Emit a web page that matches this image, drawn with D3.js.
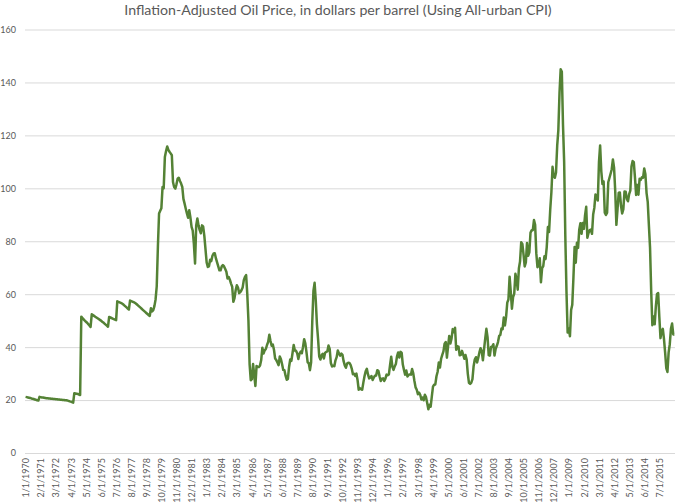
<!doctype html>
<html lang="en">
<head>
  <meta charset="utf-8">
  <title>Inflation-Adjusted Oil Price</title>
  <style>
    body { margin: 0; background: #fff; }
    svg { display: block; font-family: Lato, "Open Sans", sans-serif; }
  </style>
</head>
<body>
  <script src="https://cdn.jsdelivr.net/npm/d3@7/dist/d3.min.js"></script>
  <svg id="chart" width="675" height="503"></svg>
  <script>
    // monthly prices, one row per year, starting 1/1/1970
    var prices1970s = [
      21.2, 21.1, 21.0, 20.9, 20.8, 20.6, 20.5, 20.4, 20.2, 20.1, 19.9, 19.8,
      21.2, 21.1, 21.0, 21.0, 20.9, 20.8, 20.7, 20.7, 20.6, 20.6, 20.5, 20.5,
      20.4, 20.4, 20.3, 20.3, 20.2, 20.2, 20.1, 20.1, 20.0, 20.0, 19.9, 19.9,
      19.8, 19.7, 19.5, 19.4, 19.2, 19.0, 22.6, 22.5, 22.4, 22.3, 22.1, 21.9,
      51.5, 51.0, 50.5, 50.0, 49.6, 49.2, 48.7, 48.2, 47.6, 52.4, 52.1, 51.8,
      51.5, 51.2, 50.9, 50.6, 50.3, 50.0, 49.6, 49.3, 48.9, 48.5, 48.1, 47.7,
      51.4, 51.2, 51.0, 50.8, 50.6, 50.4, 50.2, 57.3, 57.1, 56.9, 56.7, 56.5,
      56.2, 55.8, 55.4, 55.0, 54.6, 54.2, 57.6, 57.4, 57.2, 57.0, 56.8, 56.5,
      56.1, 55.7, 55.3, 54.9, 54.5, 54.1, 53.7, 53.3, 52.9, 52.5, 52.1, 51.8,
      54.7, 53.5, 54.0, 55.5, 58.0, 63.0, 78.0, 90.5, 91.5, 92.5, 100.5, 100.0
    ];
    var prices1980s = [
      111.8, 114.0, 115.8, 114.5, 113.8, 113.2, 112.5, 102.4, 100.5, 99.9, 101.5, 103.6,
      104.0, 102.8, 101.8, 100.5, 96.0, 94.2, 92.3, 90.5, 88.9, 91.7, 89.0, 85.4,
      84.0, 79.0, 71.6, 86.0, 88.6, 86.0, 84.2, 83.0, 86.0, 85.5, 82.0, 77.0,
      72.0, 70.3, 70.5, 73.0, 72.5, 74.5, 75.4, 75.5, 73.5, 72.0, 70.5, 69.0,
      69.0, 70.5, 71.0, 70.5, 69.5, 68.5, 65.9, 66.5, 65.5, 64.0, 62.8, 57.1,
      58.5, 61.5, 63.4, 62.5, 60.4, 60.8, 61.5, 62.5, 65.3, 66.5, 67.2, 60.0,
      50.0, 33.6, 27.5, 27.9, 33.6, 29.4, 25.3, 32.9, 32.5, 32.5, 33.1, 35.1,
      39.8, 37.6, 38.8, 39.3, 40.8, 42.0, 44.7, 42.3, 40.5, 41.0, 39.0, 35.7,
      35.1, 34.2, 33.2, 36.5, 35.4, 33.5, 31.4, 31.3, 29.2, 27.7, 28.0, 32.5,
      35.3, 34.8, 37.8, 40.8, 38.7, 38.6, 37.7, 35.5, 37.5, 38.3, 37.7, 40.0
    ];
    var prices1990s = [
      43.0, 41.4, 38.1, 34.3, 33.9, 31.3, 34.3, 49.7, 61.2, 64.3, 57.7, 48.7,
      43.0, 36.4, 35.3, 36.9, 37.5, 35.7, 37.8, 38.2, 38.4, 40.6, 39.3, 34.0,
      32.7, 33.0, 32.8, 35.0, 36.2, 38.7, 37.6, 36.8, 37.6, 37.1, 34.7, 33.1,
      32.2, 33.8, 34.1, 34.0, 33.3, 31.9, 29.8, 29.9, 29.1, 30.0, 27.6, 23.9,
      24.5, 24.1, 23.9, 26.6, 29.0, 30.9, 31.8, 29.7, 28.2, 28.5, 29.1, 27.6,
      28.5, 29.2, 29.3, 31.3, 31.0, 28.9, 27.2, 28.1, 28.2, 27.2, 28.1, 29.6,
      29.4, 29.7, 33.2, 36.4, 32.6, 31.4, 32.7, 33.6, 36.5, 38.0, 36.1, 38.2,
      37.9, 33.4, 31.4, 29.6, 31.2, 28.9, 29.5, 29.7, 29.6, 31.7, 30.1, 27.2,
      24.8, 23.9, 22.2, 22.8, 22.0, 20.2, 20.9, 19.9, 22.0, 21.1, 18.9, 16.5,
      18.2, 17.5, 21.4, 25.1, 25.8, 25.9, 29.0, 30.7, 34.2, 32.3, 35.6, 37.1
    ];
    var prices2000s = [
      38.4, 41.3, 41.9, 36.0, 40.3, 44.2, 41.4, 43.3, 46.8, 45.6, 47.3, 39.0,
      40.3, 40.2, 36.9, 37.1, 38.6, 37.2, 35.6, 37.0, 35.3, 29.9, 26.5, 26.1,
      26.6, 27.9, 32.8, 35.3, 36.2, 34.2, 36.0, 38.0, 39.6, 38.5, 35.0, 39.2,
      43.2, 46.9, 43.8, 37.0, 36.8, 40.1, 40.2, 41.1, 36.8, 39.4, 40.5, 41.9,
      44.2, 44.6, 47.0, 46.8, 51.2, 48.2, 51.5, 56.8, 58.0, 66.6, 60.9, 54.5,
      58.9, 60.2, 67.7, 65.6, 61.7, 69.7, 72.4, 79.6, 79.0, 75.0, 70.5, 72.0,
      79.3, 74.5, 75.8, 83.2, 84.2, 84.2, 88.0, 86.2, 75.5, 70.2, 70.8, 73.6,
      64.5, 69.8, 70.6, 74.3, 73.3, 77.8, 85.4, 83.5, 91.9, 98.5, 108.1, 104.6,
      104.0, 106.0, 116.0, 122.0, 136.0, 145.0, 144.0, 124.0, 110.0, 82.0, 61.0, 45.5,
      47.1, 44.1, 54.0, 56.0, 66.3, 77.8, 71.9, 79.4, 77.5, 84.4, 86.8, 82.8
    ];
    var prices2010s = [
      86.9, 84.7, 89.8, 93.0, 81.3, 83.1, 84.2, 84.4, 82.8, 90.1, 92.6, 97.7,
      96.5, 95.4, 109.9, 116.2, 106.4, 101.6, 102.6, 90.8, 89.9, 90.8, 102.3, 103.9,
      105.5, 107.2, 110.9, 107.8, 99.0, 86.2, 92.2, 98.3, 98.4, 93.3, 90.5, 92.1,
      98.8, 98.7, 96.0, 95.1, 97.8, 99.1, 108.2, 110.3, 109.9, 104.1, 97.5, 101.3,
      97.6, 103.6, 103.2, 104.2, 104.0, 107.5, 105.3, 98.2, 94.9, 86.1, 77.6, 61.0,
      48.3, 51.6, 48.6, 55.4, 60.1, 60.4, 51.4, 43.4, 46.1, 46.9, 43.1, 37.9,
      32.1, 30.6, 37.9, 41.1, 46.9, 48.9, 44.8, 44.8
    ];
    var yTicks = [0, 20, 40, 60, 80, 100, 120, 140, 160];
    var tickLabels = [
      "1/1/1970", "2/1/1971", "3/1/1972", "4/1/1973", "5/1/1974", "6/1/1975",
      "7/1/1976", "8/1/1977", "9/1/1978", "10/1/1979", "11/1/1980", "12/1/1981",
      "1/1/1983", "2/1/1984", "3/1/1985", "4/1/1986", "5/1/1987", "6/1/1988",
      "7/1/1989", "8/1/1990", "9/1/1991", "10/1/1992", "11/1/1993", "12/1/1994",
      "1/1/1996", "2/1/1997", "3/1/1998", "4/1/1999", "5/1/2000", "6/1/2001",
      "7/1/2002", "8/1/2003", "9/1/2004", "10/1/2005", "11/1/2006", "12/1/2007",
      "1/1/2009", "2/1/2010", "3/1/2011", "4/1/2012", "5/1/2013", "6/1/2014",
      "7/1/2015"
    ];
    var startYear = 1970;

    var prices = prices1970s.concat(prices1980s, prices1990s, prices2000s, prices2010s);
    // one category per month, labelled like the sheet: M/1/YYYY
    var categories = prices.map((d, i) => `${i % 12 + 1}/1/${startYear + Math.floor(i / 12)}`);

    var svg = d3.select("#chart");
    var x = d3.scalePoint().domain(categories).range([25, 675]).padding(0.5);
    var y = d3.scaleLinear().domain([0, 160]).range([453, 29.5]);

    svg.append("text")
      .attr("x", 338).attr("y", 15)
      .attr("text-anchor", "middle")
      .style("font-size", "14.2px")
      .style("fill", "#595959")
      .text("Inflation-Adjusted Oil Price, in dollars per barrel (Using All-urban CPI)");

    var yAxis = svg.append("g")
      .attr("transform", "translate(25,0)")
      .call(d3.axisLeft(y).tickValues(yTicks).tickSize(-650).tickPadding(9));
    yAxis.select(".domain").remove();
    yAxis.selectAll("line").style("stroke", "#d9d9d9").style("stroke-width", "1px");
    yAxis.selectAll("text").style("font-size", "9px").style("fill", "#595959")
      .style("font-family", "Lato, sans-serif");

    var xAxis = svg.append("g")
      .attr("transform", "translate(0,453)")
      .call(d3.axisBottom(x).tickValues(tickLabels).tickSize(0));
    xAxis.select(".domain").remove();
    xAxis.selectAll("text")
      .attr("transform", "rotate(-90)")
      .attr("x", -5).attr("y", 0).attr("dy", "0.35em")
      .attr("text-anchor", "end")
      .style("font-size", "9px").style("fill", "#595959")
      .style("font-family", "Lato, sans-serif");

    var line = d3.line()
      .x((d, i) => x(categories[i]))
      .y(d => y(d));

    svg.append("path")
      .datum(prices)
      .attr("d", line)
      .style("fill", "none")
      .style("stroke", "#548235")
      .style("stroke-width", "2.5px")
      .style("stroke-linejoin", "round");
  </script>
</body>
</html>
